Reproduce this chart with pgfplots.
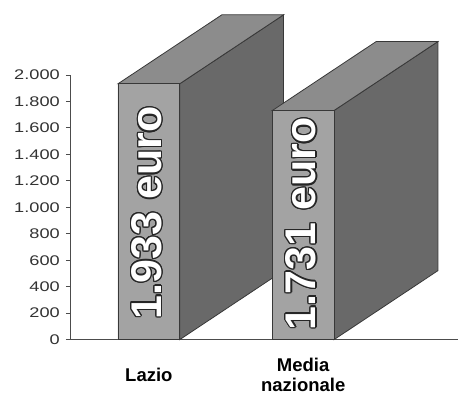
\documentclass[border=0pt]{standalone}
\usepackage{fontspec}
\setmainfont{Liberation Sans}
\usepackage{graphicx}
\usepackage{pgfplots}
\pgfplotsset{compat=1.18}
\usepackage{contour}
\contourlength{1.3pt}
\definecolor{frontc}{gray}{0.64}
\definecolor{topc}{gray}{0.55}
\definecolor{sidec}{gray}{0.41}
\definecolor{edgec}{gray}{0.22}
\newcommand\sx[1]{\scalebox{1.3}[1]{#1}}
\begin{document}
\begin{tikzpicture}
\begin{axis}[
  scale only axis, width=387pt, height=265pt,
  xmin=0.495, xmax=3.0, ymin=0, ymax=2000,
  clip=false,
  axis x line=bottom, axis y line=left,
  axis line style={-, draw=black!70, line width=1pt},
  ytick={0,200,...,2000},
  yticklabels={\sx{0},\sx{200},\sx{400},\sx{600},\sx{800},\sx{1.000},\sx{1.200},\sx{1.400},\sx{1.600},\sx{1.800},\sx{2.000}},
  yticklabel style={font=\fontsize{14}{16}\selectfont, text=black!80, inner sep=0pt, xshift=-6pt},
  tick align=outside, major tick length=5pt,
  y tick style={draw=black!70, line width=0.8pt},
  xtick={1,2}, xticklabels={Lazio,{Media\\nazionale}},
  x tick style={draw=none},
  xticklabel style={font=\bfseries\fontsize{18.5}{20}\selectfont, align=center, anchor=center, yshift=-30pt},
]
% bar 1 side and top
\addplot[fill=sidec, draw=edgec, line width=0.8pt] coordinates {(1.2,0) (1.873,521) (1.873,2454) (1.2,1933)} -- cycle;
\addplot[fill=topc, draw=edgec, line width=0.8pt] coordinates {(0.8,1933) (1.2,1933) (1.873,2454) (1.473,2454)} -- cycle;
% bar 2 side and top
\addplot[fill=sidec, draw=edgec, line width=0.8pt] coordinates {(2.2,0) (2.873,521) (2.873,2252) (2.2,1731)} -- cycle;
\addplot[fill=topc, draw=edgec, line width=0.8pt] coordinates {(1.8,1731) (2.2,1731) (2.873,2252) (2.473,2252)} -- cycle;
% front faces
\addplot[ybar, bar width=0.4, fill=frontc, draw=edgec, line width=0.8pt] coordinates {(1,1933) (2,1731)};
\node[rotate=90, font=\bfseries\fontsize{43}{43}\selectfont, text=white] at (axis cs:0.99,958) {\contour{black!85}{1.933 euro}};
\node[rotate=90, font=\bfseries\fontsize{43}{43}\selectfont, text=white] at (axis cs:1.99,875) {\contour{black!85}{1.731 euro}};
\end{axis}
\path (-71pt,-54pt) rectangle (387pt,340pt);
\end{tikzpicture}
\end{document}
